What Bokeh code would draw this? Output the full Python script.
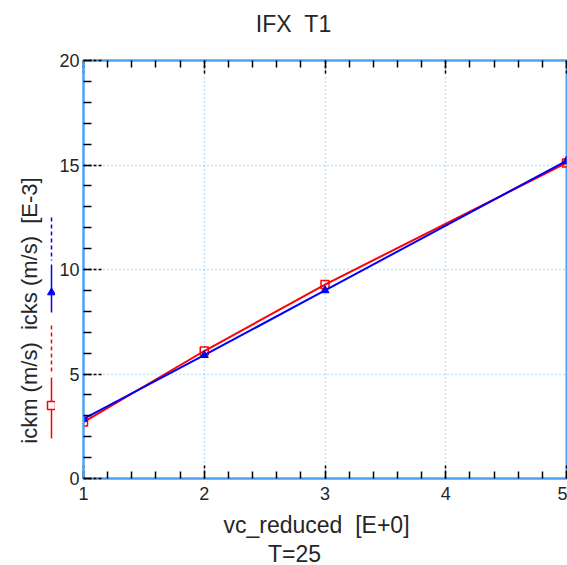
import math
from bokeh.plotting import figure
from bokeh.models import (Range1d, LinearAxis, SingleIntervalTicker, Grid,
                          ColumnDataSource, CustomJSTickFormatter)
from bokeh.layouts import row, column
from bokeh.core.properties import value
from bokeh.embed import file_html
from bokeh.resources import INLINE

# ---- data ----
vc_reduced = [1, 2, 3, 5]
ickm = [2.7, 6.1, 9.28, 15.1]   # [E-3] m/s
icks = [2.85, 5.9, 9.0, 15.2]   # [E-3] m/s

x_ticks_interval = 1
y_ticks_interval = 5
X_RANGE = (1, 5)
Y_RANGE = (0, 20)

NB = "\u00a0"
title_text = "IFX " + NB + "T1"
x_label_text = "vc_reduced " + NB + "[E+0]"
y_label_text = "ickm (m/s) " + NB + "icks (m/s) " + NB + "[E-3]"
note_text = "T=25"

# ---- layout / style ----
PAGE_W, PAGE_H = 567, 565
TOP_H, BOT_H, LEFT_W = 40, 57, 55
MID_H = PAGE_H - TOP_H - BOT_H
FRAME_L, FRAME_T, FRAME_B = 83, 60, 478
FONT = "Liberation Sans"
FRAME_BLUE = "#4aa3f5"
GRID_BLUE = "#7fc4f5"
TXT = "#262626"

W = PAGE_W - LEFT_W
p = figure(width=W, height=MID_H, x_range=Range1d(*X_RANGE), y_range=Range1d(*Y_RANGE),
           output_backend="svg", toolbar_location=None,
           min_border_left=FRAME_L - LEFT_W, min_border_right=1,
           min_border_top=FRAME_T - TOP_H, min_border_bottom=TOP_H + MID_H - FRAME_B,
           x_axis_location=None, y_axis_location=None)
p.center = []
p.background_fill_color = "white"
p.border_fill_color = "white"
p.outline_line_color = FRAME_BLUE
p.outline_line_width = 2


def mk_axis(interval, maj_in, min_in, labels=True):
    ax = LinearAxis(ticker=SingleIntervalTicker(interval=interval, num_minor_ticks=5))
    ax.axis_line_color = FRAME_BLUE
    ax.axis_line_width = 2
    ax.major_tick_in = maj_in
    ax.major_tick_out = 0
    ax.minor_tick_in = min_in
    ax.minor_tick_out = 0
    ax.major_tick_line_color = "black"
    ax.major_tick_line_dash = "3 2"
    ax.major_tick_line_width = 1.5
    ax.minor_tick_line_color = "black"
    ax.minor_tick_line_width = 1.5
    if labels:
        ax.major_label_text_font = FONT
        ax.major_label_text_font_size = "18px"
        ax.major_label_text_color = TXT
    else:
        ax.formatter = CustomJSTickFormatter(code="return ''")
        ax.major_label_standoff = 0
    return ax


xb = mk_axis(x_ticks_interval, 15, 7)
xb.major_label_standoff = 8
p.add_layout(xb, "below")
xa = mk_axis(x_ticks_interval, 13, 7, labels=False)
p.add_layout(xa, "above")
yl = mk_axis(y_ticks_interval, 20, 8)
yl.major_label_standoff = 4
p.add_layout(yl, "left")

for dim, iv in ((0, x_ticks_interval), (1, y_ticks_interval)):
    p.add_layout(Grid(dimension=dim, ticker=SingleIntervalTicker(interval=iv),
                      grid_line_color=GRID_BLUE, grid_line_dash="1 3",
                      grid_line_width=1.5))

src = ColumnDataSource(dict(x=vc_reduced, ickm=ickm, icks=icks))
p.line("x", "ickm", source=src, line_color="red", line_width=2)
p.scatter("x", "ickm", source=src, marker="square", size=8, line_color="red",
          fill_color=None, line_width=1.5)
p.line("x", "icks", source=src, line_color="blue", line_width=2)
p.scatter("x", "icks", source=src, marker="triangle", size=8, line_color="blue",
          fill_color="blue", line_width=1)


# ---- text strips (page-pixel coordinates, y pointing down) ----
def strip(w, h, x0, y0):
    s = figure(width=w, height=h, x_range=Range1d(x0, x0 + w),
               y_range=Range1d(y0 + h, y0), output_backend="svg",
               toolbar_location=None, min_border=0,
               x_axis_location=None, y_axis_location=None)
    s.center = []
    s.outline_line_color = None
    s.background_fill_color = "white"
    s.border_fill_color = "white"
    s.frame_align = False
    return s


def txt(s, t, x, y, angle=0.0, size="23px"):
    s.text(x=[x], y=[y], text=[t], angle=angle, text_font=value(FONT),
           text_font_size=size, text_color=TXT, text_align="center",
           text_baseline="middle")


top = strip(PAGE_W, TOP_H, 0, 0)
txt(top, title_text, 293, 23)

bot = strip(PAGE_W, BOT_H, 0, TOP_H + MID_H)
txt(bot, x_label_text, 316, 524)
txt(bot, note_text, 294, 553)

lp = strip(LEFT_W, MID_H, 0, TOP_H)
txt(lp, y_label_text, 29, 310, angle=math.pi / 2, size="22px")
KX = 51
lp.segment(x0=[KX, KX], y0=[217, 325], x1=[KX, KX], y1=[260, 373],
           line_color=["blue", "red"], line_width=1.5, line_dash="4 3")
lp.segment(x0=[KX, KX], y0=[264, 377], x1=[KX, KX], y1=[312, 438],
           line_color=["blue", "red"], line_width=1.5)
lp.scatter(x=[KX], y=[292], marker="triangle", size=8, line_color="blue",
           fill_color="blue")
lp.scatter(x=[KX], y=[405], marker="square", size=8, line_color="red",
           fill_color="white", line_width=1.5)

layout = column(top, row(lp, p, spacing=0), bot, spacing=0)
open("out.html", "w").write(file_html(layout, INLINE))
